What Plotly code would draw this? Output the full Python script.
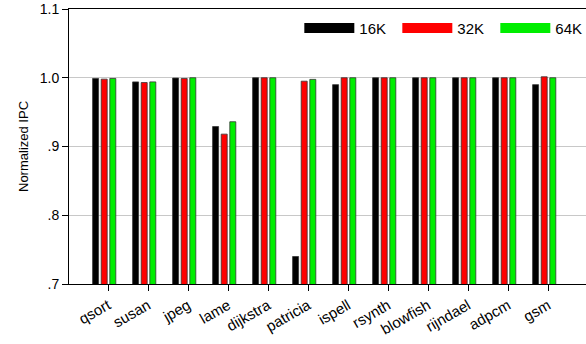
import plotly.graph_objects as go

categories = ["qsort", "susan", "jpeg", "lame", "dijkstra", "patricia", "ispell",
              "rsynth", "blowfish", "rijndael", "adpcm", "gsm"]
series_names = ["16K", "32K", "64K"]
v16 = [0.999, 0.994, 0.9995, 0.929, 1.0, 0.740, 0.990, 1.0, 1.0, 1.0, 1.0, 0.990]
v32 = [0.998, 0.993, 0.999, 0.918, 1.0, 0.995, 1.0, 1.0, 1.0, 1.0, 1.0, 1.0014]
v64 = [0.999, 0.994, 1.0, 0.936, 1.0, 0.9976, 1.0, 1.0, 1.0, 1.0, 1.0, 1.0]
colors = ["#000000", "#ff0000", "#00ee00"]
y_tickvals = [0.7, 0.8, 0.9, 1.0, 1.1]
y_ticktext = [".7", ".8", ".9", "1.0", "1.1"]

xs = list(range(len(categories)))
offsets = [-0.385, -0.17, 0.045]
width = 0.15

fig = go.Figure()
for name, vals, col, off in zip(series_names, [v16, v32, v64], colors, offsets):
    fig.add_trace(go.Bar(
        x=xs, y=vals, base=0, name=name, showlegend=False,
        offset=off, width=width,
        marker=dict(color=col, line=dict(color="#333333", width=0.8)),
    ))
for name, col in zip(series_names, colors):
    fig.add_trace(go.Scatter(
        x=[None], y=[None], mode="lines", name=name,
        line=dict(color=col, width=10),
    ))

font_family = "Liberation Sans, Arial, sans-serif"
fig.update_layout(
    width=586, height=344,
    margin=dict(l=69, r=0, t=9, b=60, autoexpand=False),
    plot_bgcolor="white", paper_bgcolor="white",
    font=dict(family=font_family, size=13, color="black"),
    barmode="overlay",
    legend=dict(orientation="h", x=0.4455, xanchor="left", y=0.93, yanchor="middle",
                font=dict(size=15), itemwidth=50, entrywidth=33,
                bgcolor="rgba(0,0,0,0)", traceorder="normal"),
    xaxis=dict(
        range=[-0.975, 11.95], automargin=False,
        tickmode="array", tickvals=xs, ticktext=categories,
        tickangle=-30, ticks="outside", ticklen=6, tickcolor="black",
        showline=True, linecolor="black", linewidth=1, mirror=True,
        showgrid=False, zeroline=False,
        tickfont=dict(size=15),
    ),
    yaxis=dict(
        range=[0.7, 1.1], automargin=False,
        tickmode="array", tickvals=y_tickvals, ticktext=y_ticktext,
        ticks="outside", ticklen=6, tickcolor="black",
        showline=True, linecolor="black", linewidth=1,
        showgrid=True, gridcolor="#c8c8c8", gridwidth=1,
        zeroline=False,
        tickfont=dict(size=14),
        title=dict(text="Normalized IPC", font=dict(size=13), standoff=8),
    ),
)
fig.write_html("out.html", config={"displayModeBar": False},
               post_script="document.body.style.margin='0';")
